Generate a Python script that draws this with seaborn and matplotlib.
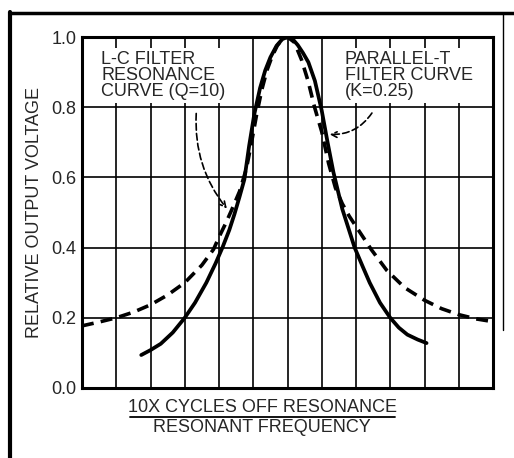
import matplotlib
matplotlib.use("Agg")
import matplotlib.pyplot as plt
import seaborn as sns
import pandas as pd
from matplotlib.lines import Line2D

# Data
lc_x = [-4.27, -4.0, -3.7, -3.35, -3.0, -2.7, -2.37, -2.1, -1.9, -1.7, -1.55, -1.4, -1.26,
        -1.12, -0.97, -0.8, -0.65, -0.5, -0.32, -0.15, 0.0,
        0.15, 0.3, 0.45, 0.61, 0.8, 1.0, 1.17, 1.34, 1.6, 1.96, 2.2, 2.4, 2.7, 3.0, 3.25,
        3.5, 3.8, 4.06]
lc_y = [0.094, 0.108, 0.126, 0.158, 0.20, 0.243, 0.30, 0.355, 0.40, 0.45, 0.495, 0.545, 0.594,
        0.69, 0.78, 0.855, 0.905, 0.942, 0.975, 0.994, 1.0,
        0.994, 0.977, 0.955, 0.928, 0.875, 0.79, 0.70, 0.615, 0.51, 0.40, 0.345, 0.30, 0.243,
        0.20, 0.172, 0.152, 0.138, 0.128]
pt_x = [-6.0, -5.5, -5.0, -4.5, -4.0, -3.5, -3.0, -2.5, -2.16, -2.0, -1.8, -1.64, -1.4,
        -1.2, -1.05, -0.9, -0.75, -0.6, -0.45, -0.3, -0.15, 0.0,
        0.2, 0.41, 0.6, 0.79, 1.0, 1.2, 1.4, 1.6, 1.8, 2.07, 2.45, 2.9, 3.42, 4.0,
        4.5, 5.0, 5.5, 6.0]
pt_y = [0.177, 0.188, 0.20, 0.216, 0.237, 0.265, 0.30, 0.35, 0.395, 0.43, 0.47, 0.505, 0.56,
        0.625, 0.70, 0.78, 0.85, 0.905, 0.945, 0.975, 0.994, 1.0,
        0.985, 0.935, 0.875, 0.80, 0.73, 0.64, 0.57, 0.525, 0.49, 0.45, 0.394, 0.335, 0.286,
        0.25, 0.226, 0.209, 0.197, 0.189]
y_ticks = [0.0, 0.2, 0.4, 0.6, 0.8, 1.0]
y_ticklabels = ["0.0", "0.2", "0.4", "0.6", "0.8", "1.0"]
lc_label = "L-C FILTER\nRESONANCE\nCURVE (Q=10)"
pt_label = "PARALLEL-T\nFILTER CURVE\n(K=0.25)"
y_title = "RELATIVE OUTPUT VOLTAGE"
x_title_top = "10X CYCLES OFF RESONANCE"
x_title_bottom = "RESONANT FREQUENCY"

sns.set_style("white")
FONT = ["Liberation Sans", "DejaVu Sans"]
plt.rcParams["font.family"] = FONT

fig = plt.figure(figsize=(5.14, 4.58), dpi=100)
ax = fig.add_axes([82/514, 1-388/458, (493-82)/514, (388-37)/458])

df_lc = pd.DataFrame({"x": lc_x, "y": lc_y})
df_pt = pd.DataFrame({"x": pt_x, "y": pt_y})

# grid
for gx in range(-6, 7):
    ax.axvline(gx, color="black", lw=1.2, zorder=1)
for gy in y_ticks:
    ax.axhline(gy, color="black", lw=1.2, zorder=1)

sns.lineplot(data=df_lc, x="x", y="y", ax=ax, color="black", lw=2.7, sort=False, zorder=4)
sns.lineplot(data=df_pt, x="x", y="y", ax=ax, color="black", lw=2.6, sort=False,
             linestyle=(0, (3.3, 2.0)), zorder=4)

ax.set_xlim(-6, 6)
ax.set_ylim(0, 1.0)
ax.set_xticks([])
ax.set_yticks(y_ticks)
ax.set_yticklabels(y_ticklabels, fontsize=13)
ax.tick_params(axis="y", length=0, pad=4)
ax.set_xlabel("")
ax.set_ylabel(y_title, fontsize=13, labelpad=6)
for s in ax.spines.values():
    s.set_linewidth(2.2)
    s.set_color("black")

bbox = dict(facecolor="white", edgecolor="none", pad=2.5)
ax.text(-5.44, 0.96, lc_label, fontsize=13, va="top", ha="left", linespacing=0.92,
        bbox=bbox, zorder=3)
ax.text(1.67, 0.96, pt_label, fontsize=13, va="top", ha="left", linespacing=0.92,
        bbox=bbox, zorder=3)

# arrows
ax.annotate("", xy=(-1.72, 0.505), xytext=(-2.66, 0.79),
            arrowprops=dict(arrowstyle="->", lw=1.2, ls=(0, (4, 2)), color="black",
                            connectionstyle="arc3,rad=0.2"), zorder=5)
ax.annotate("", xy=(1.15, 0.723), xytext=(2.51, 0.79),
            arrowprops=dict(arrowstyle="->", lw=1.2, ls=(0, (4, 2)), color="black",
                            connectionstyle="arc3,rad=-0.3"), zorder=5)

# x title as fraction
fig.text(262/514, 1-408/458, x_title_top, fontsize=13, ha="center", va="center")
fig.add_artist(Line2D([130/514, 395/514], [1-417/458, 1-417/458], color="black", lw=1.3))
fig.text(262/514, 1-427/458, x_title_bottom, fontsize=13, ha="center", va="center")

# outer frame (border of the scanned figure)
fig.add_artist(Line2D([10/514, 10/514], [0, 1-12/458], color="black", lw=3.0))
fig.add_artist(Line2D([10/514, 1.0], [1-13/458, 1-13/458], color="black", lw=2.5))
fig.add_artist(Line2D([503/514, 503/514], [1-13/458, 1-330/458], color="black", lw=1.0))

fig.savefig("out.png", dpi=100)
